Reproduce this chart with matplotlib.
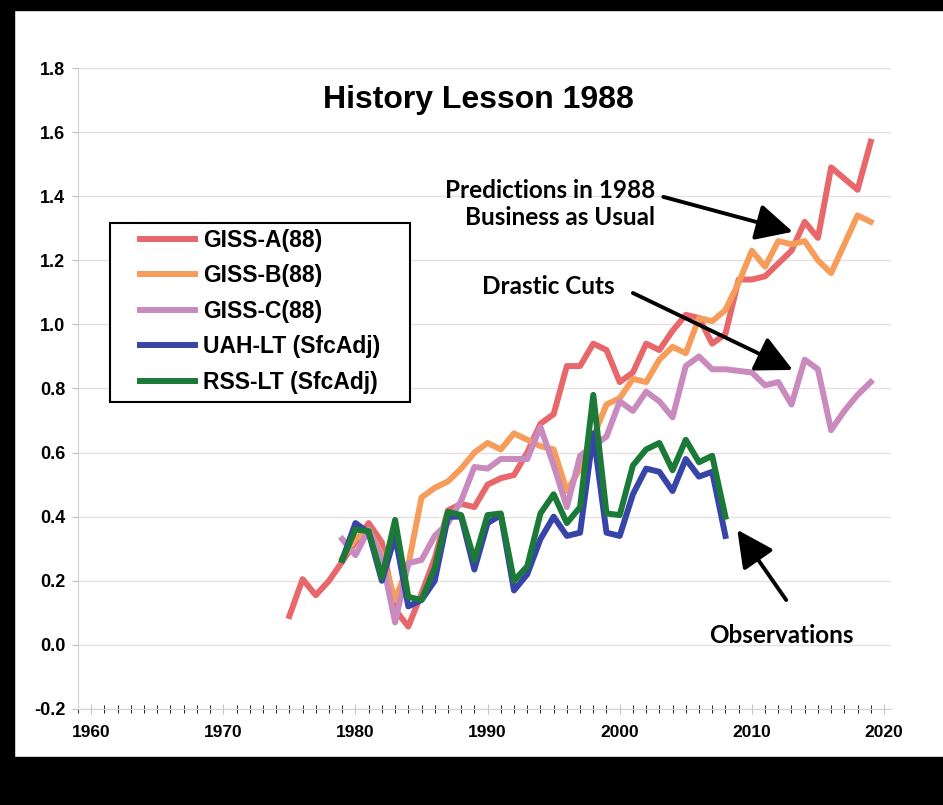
import matplotlib
matplotlib.use("Agg")
import matplotlib.pyplot as plt
from matplotlib.lines import Line2D
from matplotlib.patches import Rectangle
from matplotlib.ticker import MultipleLocator, FormatStrFormatter

plt.rcParams['axes.unicode_minus'] = False
plt.rcParams['font.family'] = ['Liberation Sans', 'DejaVu Sans']

# Model runs (1988 paper) and observations
years_a = list(range(1975, 2020))
giss_a = [0.09, 0.205, 0.155, 0.20, 0.26, 0.32, 0.38, 0.32, 0.11, 0.057,
          0.16, 0.27, 0.42, 0.44, 0.43, 0.50, 0.52, 0.53, 0.60, 0.69,
          0.72, 0.87, 0.87, 0.94, 0.92, 0.82, 0.85, 0.94, 0.92, 0.98,
          1.03, 1.02, 0.94, 0.97, 1.14, 1.14, 1.15, 1.19, 1.23, 1.32,
          1.27, 1.49, 1.455, 1.42, 1.57]

years_bc = list(range(1979, 2020))
giss_b = [0.27, 0.33, 0.36, 0.28, 0.14, 0.25, 0.46, 0.49, 0.51, 0.55,
          0.60, 0.63, 0.61, 0.66, 0.64, 0.62, 0.61, 0.48, 0.55, 0.65,
          0.75, 0.77, 0.83, 0.82, 0.89, 0.93, 0.91, 1.02, 1.01, 1.045,
          1.13, 1.23, 1.18, 1.26, 1.25, 1.26, 1.20, 1.16, 1.25, 1.34, 1.32]
giss_c = [0.33, 0.28, 0.36, 0.27, 0.07, 0.255, 0.265, 0.34, 0.38, 0.45,
          0.555, 0.55, 0.58, 0.58, 0.58, 0.68, 0.56, 0.43, 0.59, 0.62,
          0.65, 0.76, 0.73, 0.79, 0.76, 0.71, 0.87, 0.90, 0.86, 0.86,
          0.855, 0.85, 0.81, 0.82, 0.75, 0.89, 0.86, 0.67, 0.73, 0.78, 0.82]

years_obs = list(range(1979, 2009))
uah = [0.265, 0.38, 0.35, 0.20, 0.34, 0.12, 0.14, 0.20, 0.40, 0.40,
       0.235, 0.38, 0.405, 0.17, 0.22, 0.33, 0.40, 0.34, 0.35, 0.66,
       0.35, 0.34, 0.47, 0.55, 0.54, 0.48, 0.58, 0.525, 0.54, 0.34]
rss = [0.265, 0.36, 0.355, 0.21, 0.39, 0.15, 0.14, 0.24, 0.415, 0.405,
       0.265, 0.405, 0.41, 0.20, 0.245, 0.41, 0.47, 0.38, 0.43, 0.78,
       0.41, 0.405, 0.56, 0.61, 0.63, 0.545, 0.64, 0.57, 0.59, 0.40]

labels = ['GISS-A(88)', 'GISS-B(88)', 'GISS-C(88)', 'UAH-LT (SfcAdj)', 'RSS-LT (SfcAdj)']
colors = ['#e8676a', '#f79d5c', '#c98bbd', '#3845a8', '#1c7a38']

fig = plt.figure(figsize=(9.43, 8.05), dpi=100)

# black frame around the picture
fig.patches.append(Rectangle((0, 0), 1, 0.06, transform=fig.transFigure, color='black'))
fig.patches.append(Rectangle((0, 0), 0.015, 1, transform=fig.transFigure, color='black'))
fig.patches.append(Rectangle((0, 0.988), 1, 0.012, transform=fig.transFigure, color='black'))

ax = fig.add_axes([0.0827, 0.1193, 0.8617, 0.7962])
ax.plot(years_a, giss_a, color=colors[0], lw=4.3)
ax.plot(years_bc, giss_b, color=colors[1], lw=4.3)
ax.plot(years_bc, giss_c, color=colors[2], lw=4.3)
ax.plot(years_obs, uah, color=colors[3], lw=4.3)
ax.plot(years_obs, rss, color=colors[4], lw=4.3)

ax.set_xlim(1959.0, 2020.5)
ax.set_ylim(-0.2, 1.8)
ax.yaxis.set_major_locator(MultipleLocator(0.2))
ax.yaxis.set_major_formatter(FormatStrFormatter('%.1f'))
ax.xaxis.set_major_locator(MultipleLocator(10))
ax.xaxis.set_minor_locator(MultipleLocator(1))
ax.grid(axis='y', color='#e8e0e0', lw=1)
ax.set_axisbelow(True)
for s in ['top', 'right']:
    ax.spines[s].set_visible(False)
for s in ['left', 'bottom']:
    ax.spines[s].set_color('#d8d0d0')
ax.tick_params(axis='both', colors='#c8c0c0', labelcolor='black')
ax.tick_params(axis='y', direction='out', length=4, labelsize=13, pad=5)
ax.tick_params(axis='x', which='major', direction='inout', length=7, labelsize=12.5, pad=8)
ax.tick_params(axis='x', which='minor', direction='inout', length=6)
for t in ax.get_xticklabels() + ax.get_yticklabels():
    t.set_fontweight('bold')
for t in ax.get_xticklabels():
    t.set_family(['Liberation Sans Narrow', 'Liberation Sans'])

ax.text(1989.3, 1.70, 'History Lesson 1988', ha='center', va='center',
        fontsize=23, fontweight='bold')

note_font = dict(fontsize=17.5, fontweight='bold', family=['Lato', 'DejaVu Sans'])
ax.text(2002.7, 1.376, 'Predictions in 1988\nBusiness as Usual', ha='right', va='center',
        multialignment='right', linespacing=1.25, **note_font)
ax.text(1994.6, 1.117, 'Drastic Cuts', ha='center', va='center', **note_font)
ax.text(2012.2, 0.028, 'Observations', ha='center', va='center', **note_font)

arrow = dict(arrowstyle='-|>,head_length=0.9,head_width=0.45', color='black', lw=2.8,
             mutation_scale=25, shrinkA=0, shrinkB=0)
ax.annotate('', xy=(2013.1, 1.289), xytext=(2003.3, 1.398), arrowprops=arrow)
ax.annotate('', xy=(2013.1, 0.858), xytext=(2001.0, 1.098), arrowprops=arrow)
ax.annotate('', xy=(2008.9, 0.359), xytext=(2012.6, 0.14), arrowprops=arrow)

# legend box (wider padding than matplotlib's frame allows), legend drawn inside it
fig.patches.append(Rectangle((0.1166, 0.5006), 0.318, 0.2224, transform=fig.transFigure,
                             facecolor='white', edgecolor='black', lw=1.5, zorder=4))
handles = [Line2D([], [], color=c, lw=4.3) for c in colors]
leg = fig.legend(handles, labels, loc='upper left', bbox_to_anchor=(0.1485, 0.716),
                 borderaxespad=0, frameon=False, handlelength=2.4,
                 labelspacing=0.55, borderpad=0, handletextpad=0.35,
                 prop=dict(size=16.5, weight='bold'))
leg.set_zorder(5)

fig.savefig('out.png', dpi=100)
